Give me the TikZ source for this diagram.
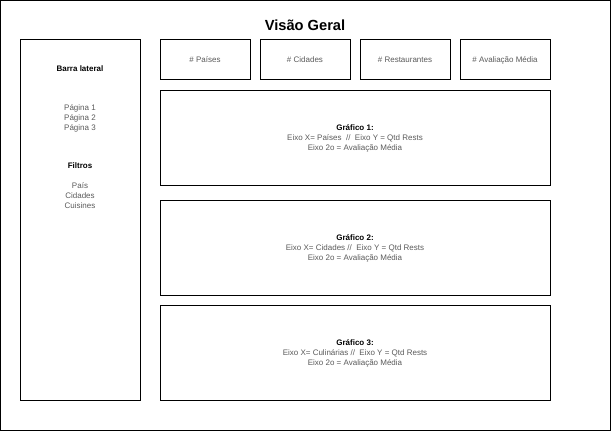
\documentclass[tikz,border=0pt]{standalone}
\usepackage{fontspec}
\setmainfont{Liberation Sans}
\usetikzlibrary{positioning}
\definecolor{labelgray}{RGB}{90,90,90}
\tikzset{box/.style={draw,line width=0.75pt,inner sep=0pt},
         small/.style={font=\fontsize{6}{7.5}\selectfont},
         card/.style={box,small,text=labelgray,text height=4.5pt,text depth=1.3pt,minimum width=67.5pt,minimum height=30pt},
         chart/.style={box,small,text=labelgray,align=center,minimum width=292.5pt,minimum height=71.25pt},
         heading/.style={font=\bfseries\fontsize{6}{7.5}\selectfont},
         item/.style={small,text=labelgray,align=center}}

\begin{document}
\begin{tikzpicture}[x=0.75pt,y=-0.75pt]
                  \useasboundingbox (0,0) rectangle (611,431);
                  \draw[line width=0.75pt] (0.5,0.5) rectangle (610,430);
                  \node[font=\bfseries\fontsize{11}{13}\selectfont,anchor=base] (title) at (305,30.5) {Visão Geral};
                  % barra lateral
                  \node[box,minimum width=90pt,minimum height=270pt] (sidebar) at (80,220) {};
                  \node[heading] (barra) at (80,69) {Barra lateral};
                  \node[item] (paginas) at (80,118.5) {Página 1\\Página 2\\Página 3};
                  \node[heading] (filtros) at (80,166) {Filtros};
                  \node[item] (filtrolist) at (80,195.5) {País\\Cidades\\Cuisines};
                  % cards
                  \node[card] (paises) at (205,60) {\# Países};
                  \node[card,right=6.75pt of paises] (cidades) {\# Cidades};
                  \node[card,right=6.75pt of cidades] (rests) {\# Restaurantes};
                  \node[card,right=6.75pt of rests] (media) {\# Avaliação Média};
                  % graficos
                  \node[chart] (graf1) at (355,138) {\textcolor{black}{\textbf{Gráfico 1:}}\\Eixo X= Países\ \ //\ \ Eixo Y = Qtd Rests\\Eixo 2o = Avaliação Média};
                  \node[chart] (graf2) at (355,248) {\textcolor{black}{\textbf{Gráfico 2:}}\\Eixo X= Cidades //\ \ Eixo Y = Qtd Rests\\Eixo 2o = Avaliação Média};
                  \node[chart] (graf3) at (355,353) {\textcolor{black}{\textbf{Gráfico 3:}}\\Eixo X= Culinárias //\ \ Eixo Y = Qtd Rests\\Eixo 2o = Avaliação Média};
              \end{tikzpicture}
\end{document}
